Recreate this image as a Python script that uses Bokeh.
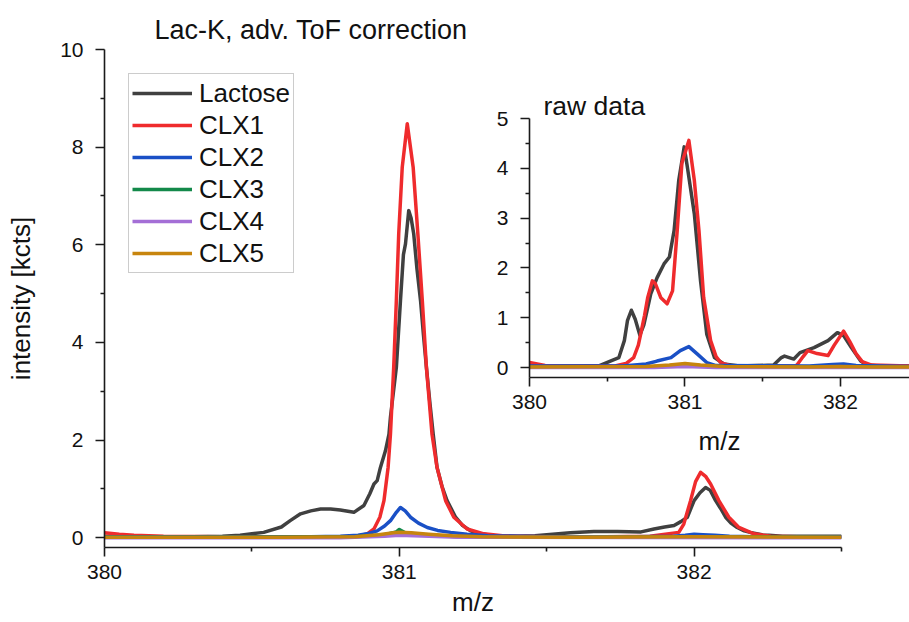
from bokeh.plotting import figure
from bokeh.models import Range1d, FixedTicker, Title
from bokeh.embed import file_html
from bokeh.resources import INLINE

FONT = "Liberation Sans"

# ---------------- data: main plot (adv. ToF correction) ----------------
SERIES = ["Lactose", "CLX1", "CLX2", "CLX3", "CLX4", "CLX5"]
COLORS = ["#404040", "#ef2b2d", "#1a50c6", "#13894a", "#a46fd6", "#c7850e"]

LAC_X = [380.00, 380.10, 380.20, 380.30, 380.40, 380.46, 380.50, 380.54, 380.60, 380.63,
         380.665, 380.70, 380.733, 380.767, 380.80, 380.846, 380.88, 380.90, 380.914, 380.925,
         380.936, 380.953, 380.965, 380.970, 380.990, 381.004, 381.014, 381.021, 381.032, 381.040,
         381.049, 381.060, 381.072, 381.082, 381.092, 381.104, 381.115, 381.128, 381.145, 381.162,
         381.191, 381.215, 381.242, 381.275, 381.32, 381.40, 381.46, 381.52, 381.58, 381.66,
         381.74, 381.82, 381.864, 381.90, 381.932, 381.955, 381.977, 382.00, 382.02, 382.039,
         382.055, 382.073, 382.09, 382.107, 382.125, 382.146, 382.17, 382.19, 382.23, 382.30,
         382.40, 382.50]
LAC_Y = [0.03, 0.02, 0.02, 0.02, 0.03, 0.05, 0.08, 0.11, 0.22, 0.35,
         0.49, 0.55, 0.59, 0.59, 0.57, 0.52, 0.66, 0.90, 1.10, 1.17,
         1.44, 1.78, 2.12, 2.47, 3.49, 4.86, 5.80, 6.02, 6.70, 6.55,
         6.22, 5.50, 4.86, 4.15, 3.49, 2.75, 2.12, 1.44, 1.05, 0.76,
         0.42, 0.25, 0.14, 0.08, 0.04, 0.03, 0.04, 0.07, 0.10, 0.13,
         0.13, 0.12, 0.18, 0.22, 0.25, 0.33, 0.42, 0.76, 0.92, 1.03,
         0.97, 0.76, 0.60, 0.42, 0.30, 0.21, 0.14, 0.11, 0.06, 0.03,
         0.03, 0.03]

CLX1_X = [380.00, 380.05, 380.10, 380.20, 380.40, 380.60, 380.80, 380.857, 380.891, 380.914,
          380.934, 380.948, 380.962, 380.970, 380.981, 380.990, 380.998, 381.010, 381.027, 381.047,
          381.063, 381.078, 381.092, 381.111, 381.128, 381.157, 381.185, 381.230, 381.287, 381.35,
          381.50, 381.70, 381.85, 381.948, 381.965, 381.988, 382.005, 382.022, 382.040, 382.056,
          382.084, 382.118, 382.152, 382.203, 382.26, 382.35, 382.50]
CLX1_Y = [0.10, 0.07, 0.05, 0.03, 0.02, 0.02, 0.02, 0.03, 0.08, 0.18,
          0.42, 0.76, 1.44, 2.12, 3.49, 4.86, 6.22, 7.59, 8.48, 7.59,
          6.22, 4.86, 3.49, 2.12, 1.44, 0.76, 0.42, 0.18, 0.08, 0.04,
          0.02, 0.02, 0.03, 0.11, 0.28, 0.76, 1.15, 1.34, 1.25, 1.10,
          0.76, 0.42, 0.21, 0.08, 0.03, 0.02, 0.02]

CLX2_X = [380.00, 380.40, 380.70, 380.80, 380.86, 380.891, 380.925, 380.950, 380.970, 380.990,
          381.004, 381.020, 381.038, 381.065, 381.095, 381.13, 381.174, 381.23, 381.30, 381.50,
          381.80, 381.93, 381.97, 382.00, 382.03, 382.07, 382.12, 382.20, 382.50]
CLX2_Y = [0.02, 0.02, 0.02, 0.03, 0.05, 0.08, 0.14, 0.24, 0.35, 0.52,
          0.62, 0.55, 0.42, 0.30, 0.21, 0.15, 0.11, 0.07, 0.04, 0.02,
          0.02, 0.03, 0.05, 0.07, 0.06, 0.05, 0.03, 0.02, 0.02]

CLX3_X = [380.00, 380.50, 380.85, 380.95, 380.99, 381.00, 381.02, 381.08, 381.20, 381.50, 382.00, 382.50]
CLX3_Y = [0.01, 0.01, 0.02, 0.06, 0.12, 0.17, 0.10, 0.06, 0.02, 0.01, 0.02, 0.01]

CLX4_X = [380.00, 380.80, 380.95, 381.00, 381.05, 381.20, 382.50]
CLX4_Y = [0.00, 0.00, 0.03, 0.05, 0.04, 0.01, 0.00]

CLX5_X = [380.00, 380.60, 380.85, 380.93, 380.98, 381.00, 381.04, 381.10, 381.18, 381.28, 381.60, 382.00, 382.50]
CLX5_Y = [0.01, 0.01, 0.02, 0.06, 0.10, 0.11, 0.10, 0.07, 0.04, 0.02, 0.01, 0.02, 0.01]

# ---------------- data: inset (raw data) ----------------
LAC_RAW_X = [380.00, 380.30, 380.45, 380.52, 380.575, 380.61, 380.63, 380.655, 380.68, 380.71,
             380.735, 380.76, 380.78, 380.82, 380.865, 380.90, 380.93, 380.96, 380.995, 381.015,
             381.06, 381.10, 381.14, 381.19, 381.25, 381.35, 381.57, 381.62, 381.64, 381.70,
             381.74, 381.83, 381.92, 381.98, 382.02, 382.07, 382.13, 382.17, 382.25, 382.45]
LAC_RAW_Y = [0.03, 0.03, 0.04, 0.13, 0.20, 0.54, 0.94, 1.15, 0.97, 0.65,
             0.85, 1.20, 1.48, 1.80, 2.08, 2.22, 2.75, 3.76, 4.43, 4.03,
             3.09, 1.74, 0.67, 0.20, 0.07, 0.03, 0.05, 0.20, 0.23, 0.17,
             0.30, 0.40, 0.54, 0.70, 0.64, 0.40, 0.13, 0.05, 0.03, 0.03]

CLX1_RAW_X = [380.00, 380.05, 380.10, 380.20, 380.55, 380.62, 380.67, 380.70, 380.715, 380.74,
              380.76, 380.79, 380.81, 380.845, 380.885, 380.92, 380.95, 380.98, 381.025, 381.06,
              381.09, 381.12, 381.165, 381.20, 381.23, 381.30, 381.70, 381.72, 381.76, 381.79,
              381.85, 381.92, 381.96, 382.02, 382.06, 382.10, 382.14, 382.20, 382.45]
CLX1_RAW_Y = [0.10, 0.07, 0.04, 0.03, 0.03, 0.08, 0.20, 0.45, 0.67, 1.05,
              1.40, 1.74, 1.68, 1.40, 1.28, 1.54, 2.75, 4.10, 4.56, 3.76,
              2.75, 1.41, 0.54, 0.22, 0.10, 0.03, 0.03, 0.05, 0.22, 0.34,
              0.28, 0.24, 0.45, 0.73, 0.52, 0.28, 0.12, 0.05, 0.03]

CLX2_RAW_X = [380.00, 380.60, 380.75, 380.82, 380.91, 380.97, 381.025, 381.08, 381.14, 381.20,
              381.80, 381.95, 382.02, 382.10, 382.45]
CLX2_RAW_Y = [0.03, 0.03, 0.07, 0.13, 0.20, 0.34, 0.42, 0.27, 0.10, 0.04,
              0.03, 0.06, 0.07, 0.04, 0.02]

CLX3_RAW_X = [380.00, 380.80, 381.00, 381.20, 382.45]
CLX3_RAW_Y = [0.01, 0.02, 0.05, 0.02, 0.01]

CLX4_RAW_X = [380.00, 380.80, 381.00, 381.20, 382.45]
CLX4_RAW_Y = [0.00, 0.00, 0.02, 0.00, 0.00]

CLX5_RAW_X = [380.00, 380.75, 380.90, 381.00, 381.10, 381.25, 381.80, 382.00, 382.20, 382.45]
CLX5_RAW_Y = [0.01, 0.02, 0.05, 0.08, 0.05, 0.02, 0.01, 0.02, 0.01, 0.01]

# ---------------- ticks ----------------
MAIN_X_TICKS = [380, 381, 382]
MAIN_X_MINOR = [380.5, 381.5, 382.5]
MAIN_Y_TICKS = [0, 2, 4, 6, 8, 10]
MAIN_Y_MINOR = [1, 3, 5, 7, 9]
INSET_X_TICKS = [380, 381, 382]
INSET_X_MINOR = [380.5, 381.5]
INSET_Y_TICKS = [0, 1, 2, 3, 4, 5]
INSET_Y_MINOR = [0.5, 1.5, 2.5, 3.5, 4.5]

MAIN_DATA = [(LAC_X, LAC_Y), (CLX1_X, CLX1_Y), (CLX2_X, CLX2_Y),
             (CLX3_X, CLX3_Y), (CLX4_X, CLX4_Y), (CLX5_X, CLX5_Y)]
RAW_DATA = [(LAC_RAW_X, LAC_RAW_Y), (CLX1_RAW_X, CLX1_RAW_Y), (CLX2_RAW_X, CLX2_RAW_Y),
            (CLX3_RAW_X, CLX3_RAW_Y), (CLX4_RAW_X, CLX4_RAW_Y), (CLX5_RAW_X, CLX5_RAW_Y)]


def style_axes(fig, xt, xm, yt, ym, xlabel, ylabel, xlab_standoff, ylab_standoff):
    fig.xaxis.ticker = FixedTicker(ticks=xt, minor_ticks=xm)
    fig.yaxis.ticker = FixedTicker(ticks=yt, minor_ticks=ym)
    fig.xaxis.axis_label = xlabel
    if ylabel:
        fig.yaxis.axis_label = ylabel
    for ax in fig.xaxis + fig.yaxis:
        ax.axis_line_color = "#1a1a1a"
        ax.axis_line_width = 1.6
        ax.major_tick_line_color = "#1a1a1a"
        ax.major_tick_line_width = 1.6
        ax.minor_tick_line_color = "#1a1a1a"
        ax.minor_tick_line_width = 1.6
        ax.major_tick_in = 0
        ax.major_tick_out = 9
        ax.minor_tick_in = 0
        ax.minor_tick_out = 4
        ax.major_label_text_font = FONT
        ax.major_label_text_font_size = "21px"
        ax.major_label_text_color = "#111111"
        ax.axis_label_text_font = FONT
        ax.axis_label_text_font_size = "26px"
        ax.axis_label_text_font_style = "normal"
        ax.axis_label_text_color = "#111111"
    fig.xaxis.major_label_standoff = 8
    fig.yaxis.major_label_standoff = 12
    fig.xaxis.axis_label_standoff = xlab_standoff
    fig.yaxis.axis_label_standoff = ylab_standoff
    fig.xgrid.visible = False
    fig.ygrid.visible = False
    fig.outline_line_color = None


# ---------------- main figure ----------------
p = figure(width=909, height=622, x_range=Range1d(380, 382.5), y_range=Range1d(-0.2, 10),
           output_backend="svg", toolbar_location=None,
           min_border_left=104, min_border_right=68, min_border_top=49, min_border_bottom=75)
p.title = Title(text="Lac-K, adv. ToF correction", align="left", offset=50,
                text_font=FONT, text_font_size="27px", text_font_style="normal",
                text_color="#111111", standoff=9)

for name, color, (xs, ys) in zip(SERIES, COLORS, MAIN_DATA):
    p.line(xs, ys, line_color=color, line_width=3.5, line_join="round", legend_label=name)

style_axes(p, MAIN_X_TICKS, MAIN_X_MINOR, MAIN_Y_TICKS, MAIN_Y_MINOR,
           "m/z", "intensity [kcts]", 5, 21)

lg = p.legend[0]
lg.location = "top_left"
lg.margin = 24
lg.padding = 3
lg.spacing = 0
lg.glyph_width = 60
lg.glyph_height = 32
lg.label_height = 32
lg.label_standoff = 7
lg.label_text_font = FONT
lg.label_text_font_size = "26px"
lg.label_text_color = "#111111"
lg.border_line_color = "#9a9a9a"
lg.border_line_width = 1.2
lg.background_fill_alpha = 1.0

# ---------------- inset figure ----------------
q = figure(width=420, height=386, x_range=Range1d(380, 382.444), y_range=Range1d(-0.2, 5),
           output_backend="svg", toolbar_location=None,
           min_border_left=40, min_border_right=0, min_border_top=40, min_border_bottom=87,
           background_fill_alpha=0, border_fill_alpha=0)
q.title = Title(text="raw data", align="left", offset=14,
                text_font=FONT, text_font_size="26.5px", text_font_style="normal",
                text_color="#111111", standoff=-5)

for name, color, (xs, ys) in zip(SERIES, COLORS, RAW_DATA):
    q.line(xs, ys, line_color=color, line_width=3.5, line_join="round")

style_axes(q, INSET_X_TICKS, INSET_X_MINOR, INSET_Y_TICKS, INSET_Y_MINOR,
           "m/z", "", 14, 0)
q.styles = {"position": "absolute", "left": "489px", "top": "78px"}

open("out.html", "w").write(file_html([p, q], INLINE))
